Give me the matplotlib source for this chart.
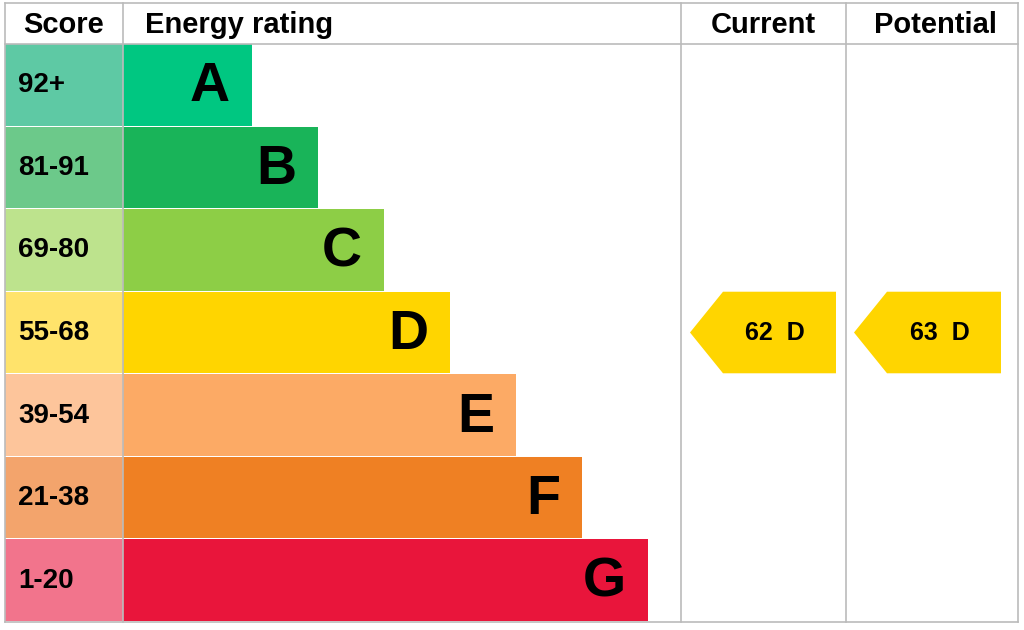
import matplotlib
matplotlib.use("Agg")
import matplotlib.pyplot as plt
from matplotlib.patches import Rectangle, Polygon

bands = ["A", "B", "C", "D", "E", "F", "G"]
scores = ["92+", "81-91", "69-80", "55-68", "39-54", "21-38", "1-20"]
bar_colors = ["#00c781", "#19b459", "#8dce46", "#ffd500", "#fcaa65", "#ef8023", "#e9153b"]
score_colors = ["#5ec9a4", "#6cc98a", "#bde38d", "#ffe36b", "#fdc59b", "#f3a46c", "#f2748c"]
bar_ends = [252, 318, 384, 450, 516, 582, 648]
current = (62, "D")
potential = (63, "D")

fig = plt.figure(figsize=(10.24, 6.30), dpi=100)
ax = fig.add_axes([0, 0, 1, 1])
ax.set_xlim(0, 1024); ax.set_ylim(630, 0); ax.axis("off")
font = "Liberation Sans"

top, head, bottom = 3, 44, 622
rh = (bottom - head) / 7
gc = "#bbbbbb"
for x in [5, 123, 681, 846, 1018]:
    ax.plot([x, x], [top, bottom], color=gc, lw=1.2)
for y in [top, head, bottom]:
    ax.plot([5, 1018], [y, y], color=gc, lw=1.2)

for t, x, ha in [("Score", 64, "center"), ("Energy rating", 145, "left"),
                 ("Current", 763, "center"), ("Potential", 935, "center")]:
    ax.text(x, 25, t, ha=ha, va="center", fontsize=21, fontweight="bold", family=font)

for i, (b, s, bc, sc, e) in enumerate(zip(bands, scores, bar_colors, score_colors, bar_ends)):
    y0 = head + i * rh
    ax.add_patch(Rectangle((5, y0), 118, rh - 1, color=sc, lw=0))
    ax.add_patch(Rectangle((123, y0), e - 123, rh - 1, color=bc, lw=0))
    ax.text(18, y0 + rh / 2, s, ha="left", va="center", fontsize=20, fontweight="bold", family=font)
    ax.text(e - 22, y0 + rh / 2 + 2, b, ha="right", va="center", fontsize=40, fontweight="bold", family=font)

def arrow(x0, x1, val, band):
    i = bands.index(band)
    y0 = head + i * rh
    y1 = y0 + rh - 1
    ym = (y0 + y1) / 2
    ax.add_patch(Polygon([(x0, ym), (x0 + 33, y0), (x1, y0), (x1, y1), (x0 + 33, y1)],
                         closed=True, color=bar_colors[i], lw=0))
    ax.text((x0 + x1) / 2 + 12, ym, f"{val}  {band}", ha="center", va="center",
            fontsize=18, fontweight="bold", family=font)

arrow(690, 836, *current)
arrow(854, 1001, *potential)

fig.savefig("out.png", dpi=100)
